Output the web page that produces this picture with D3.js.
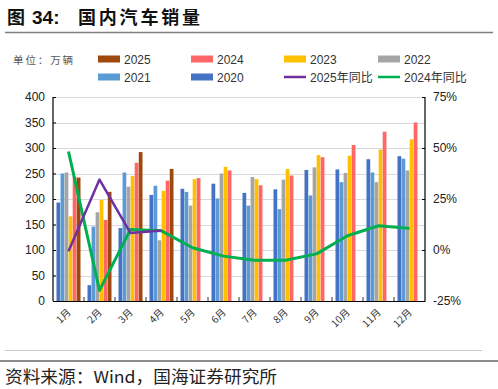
<!DOCTYPE html>
<html>
<head>
<meta charset="utf-8">
<script src="https://cdn.jsdelivr.net/npm/d3@7"></script>
<style>
  body { margin: 0; background: #fff; }
  svg text { font-family: "Liberation Sans", Arial, "Noto Sans CJK SC", sans-serif; }
  .cjk { font-family: "Noto Sans CJK SC", sans-serif; }
</style>
</head>
<body>
<svg id="chart" width="498" height="389"></svg>
<script>
const months = ['1月', '2月', '3月', '4月', '5月', '6月', '7月', '8月', '9月', '10月', '11月', '12月'];
const years = ['2020', '2021', '2022', '2023', '2024', '2025'];

const sales2020 = [193, 31, 143, 208, 220, 230, 212, 219, 257, 258, 278, 284];
const sales2021 = [250, 146, 252, 226, 214, 201, 187, 180, 207, 233, 252, 279];
const sales2022 = [252, 174, 224, 119, 187, 250, 243, 238, 262, 251, 233, 256];
const sales2023 = [166, 198, 245, 216, 239, 263, 239, 259, 286, 285, 297, 317];
const sales2024 = [244, 159, 271, 236, 241, 256, 227, 246, 282, 306, 332, 350];
const sales2025 = [242, 214, 292, 259, null, null, null, null, null, null, null, null];

const yoy2025 = [-0.6, 34.5, 8.3, 9.6, null, null, null, null, null, null, null, null];
const yoy2024 = [48.3, -19.8, 10.1, 9.4, 1.1, -3.0, -5.0, -5.0, -1.9, 7.0, 11.9, 10.6];

const leftTicks = [0, 50, 100, 150, 200, 250, 300, 350, 400];
const rightTicks = [-25, 0, 25, 50, 75];

const salesByYear = {
  '2020': sales2020, '2021': sales2021, '2022': sales2022,
  '2023': sales2023, '2024': sales2024, '2025': sales2025
};
const barColor = {
  '2020': '#4472C4', '2021': '#5B9BD5', '2022': '#A5A5A5',
  '2023': '#FFC000', '2024': '#FF6666', '2025': '#9E480E'
};

const svg = d3.select('#chart');

// title
svg.append('text')
  .attr('x', 7).attr('y', 24)
  .attr('font-size', 18).attr('font-weight', 'bold')
  .attr('class', 'cjk').attr('fill', '#111')
  .text('图');
svg.append('text')
  .attr('x', 32).attr('y', 24)
  .attr('font-size', 19).attr('font-weight', 'bold')
  .attr('fill', '#111')
  .text('34:');
svg.append('text')
  .attr('x', 78).attr('y', 24)
  .attr('font-size', 18).attr('font-weight', 'bold')
  .attr('class', 'cjk').attr('fill', '#111')
  .attr('textLength', 122).attr('lengthAdjust', 'spacing')
  .text('国内汽车销量');
svg.append('line')
  .attr('x1', 5).attr('x2', 493).attr('y1', 32.5).attr('y2', 32.5)
  .attr('stroke', '#7f7f7f').attr('stroke-width', 1.5);

svg.append('text')
  .attr('x', 13).attr('y', 64)
  .attr('font-size', 10.5).attr('class', 'cjk')
  .attr('fill', '#595959')
  .attr('textLength', 60).attr('lengthAdjust', 'spacing')
  .text('单位：万辆');

// plot area
const plotLeft = 53, plotRight = 425, plotTop = 97, plotBottom = 301;

const x0 = d3.scaleBand().domain(months).range([plotLeft, plotRight]);
const x1 = d3.scaleBand().domain(years)
  .range([3.5, x0.bandwidth() - 3.5]).paddingInner(0.08);
const yL = d3.scaleLinear().domain([0, 400]).range([plotBottom, plotTop]);
const yR = d3.scaleLinear().domain([-25, 75]).range([plotBottom, plotTop]);

// gridlines
svg.append('g').selectAll('line')
  .data(leftTicks.slice(1))
  .enter().append('line')
  .attr('x1', plotLeft).attr('x2', plotRight)
  .attr('y1', d => Math.round(yL(d)) + 0.5).attr('y2', d => Math.round(yL(d)) + 0.5)
  .attr('stroke', '#d9d9d9').attr('stroke-width', 1);

// bars
const groups = svg.append('g').selectAll('g')
  .data(months)
  .enter().append('g')
  .attr('transform', d => `translate(${x0(d)},0)`);

groups.selectAll('rect')
  .data((m, i) => years.map(yr => ({ yr, v: salesByYear[yr][i] })).filter(d => d.v != null))
  .enter().append('rect')
  .attr('x', d => x1(d.yr))
  .attr('width', x1.bandwidth())
  .attr('y', d => yL(d.v))
  .attr('height', d => yL(0) - yL(d.v))
  .attr('fill', d => barColor[d.yr]);

// axes
const axisL = svg.append('g')
  .attr('transform', `translate(${plotLeft},0)`)
  .call(d3.axisLeft(yL).tickValues(leftTicks).tickSize(-3).tickPadding(8));
const axisR = svg.append('g')
  .attr('transform', `translate(${plotRight},0)`)
  .call(d3.axisRight(yR).tickValues(rightTicks).tickSize(-3).tickPadding(8).tickFormat(d => d + '%'));
const axisB = svg.append('g')
  .attr('transform', `translate(0,${plotBottom})`)
  .call(d3.axisBottom(x0).tickSize(0).tickFormat(''));

[axisL, axisR, axisB].forEach(a => {
  a.select('.domain').attr('stroke', '#000').attr('stroke-width', 1.2);
  a.selectAll('.tick line').attr('stroke', '#000');
  a.selectAll('.tick text').attr('fill', '#222').attr('font-size', 12)
    .attr('font-family', '"Liberation Sans", Arial, sans-serif');
});
axisL.select('.domain').attr('d', `M0,${plotTop}V${plotBottom}`);
axisR.select('.domain').attr('d', `M0,${plotTop}V${plotBottom}`);

// inner category ticks between groups
svg.append('g').selectAll('line')
  .data(months.slice(1))
  .enter().append('line')
  .attr('x1', d => x0(d)).attr('x2', d => x0(d))
  .attr('y1', plotBottom).attr('y2', plotBottom - 4)
  .attr('stroke', '#333').attr('stroke-width', 1);

// month labels
svg.append('g').selectAll('text')
  .data(months)
  .enter().append('text')
  .attr('class', 'cjk')
  .attr('font-size', 10)
  .attr('fill', '#333')
  .attr('text-anchor', 'end')
  .attr('transform', d => `translate(${x0(d) + x0.bandwidth() / 2 + 3},${plotBottom + 12}) rotate(-45)`)
  .text(d => d);

// yoy lines
const cx = m => x0(m) + x0.bandwidth() / 2;
const line = d3.line()
  .defined(d => d.v != null)
  .x(d => cx(d.m))
  .y(d => yR(d.v));

svg.append('path')
  .datum(months.map((m, i) => ({ m, v: yoy2024[i] })))
  .attr('d', line)
  .attr('fill', 'none').attr('stroke', '#00B050').attr('stroke-width', 3)
  .attr('stroke-linejoin', 'round');

svg.append('path')
  .datum(months.map((m, i) => ({ m, v: yoy2025[i] })))
  .attr('d', line)
  .attr('fill', 'none').attr('stroke', '#7030A0').attr('stroke-width', 2.5)
  .attr('stroke-linejoin', 'round');

// legend
const legendItems = [
  { label: '2025', type: 'bar', color: barColor['2025'], x: 98, y: 59 },
  { label: '2024', type: 'bar', color: barColor['2024'], x: 191, y: 59 },
  { label: '2023', type: 'bar', color: barColor['2023'], x: 284, y: 59 },
  { label: '2022', type: 'bar', color: barColor['2022'], x: 378, y: 59 },
  { label: '2021', type: 'bar', color: barColor['2021'], x: 98, y: 77 },
  { label: '2020', type: 'bar', color: barColor['2020'], x: 191, y: 77 },
  { label: '2025年同比', type: 'line', color: '#7030A0', x: 284, y: 77 },
  { label: '2024年同比', type: 'line', color: '#00B050', x: 378, y: 77 }
];
const lg = svg.append('g').selectAll('g')
  .data(legendItems)
  .enter().append('g')
  .attr('transform', d => `translate(${d.x},${d.y})`);
lg.filter(d => d.type === 'bar').append('rect')
  .attr('x', 0).attr('y', -3.5).attr('width', 22).attr('height', 7)
  .attr('fill', d => d.color);
lg.filter(d => d.type === 'line').append('line')
  .attr('x1', 0).attr('x2', 22).attr('y1', 0).attr('y2', 0)
  .attr('stroke', d => d.color).attr('stroke-width', 2.5);
lg.append('text')
  .attr('x', 26).attr('y', 4.5)
  .attr('font-size', 12).attr('fill', '#333')
  .text(d => d.label);

// footer
svg.append('line')
  .attr('x1', 5).attr('x2', 482).attr('y1', 350.5).attr('y2', 350.5)
  .attr('stroke', '#c8c8c8').attr('stroke-width', 1);
svg.append('line')
  .attr('x1', 0).attr('x2', 498).attr('y1', 361).attr('y2', 361)
  .attr('stroke', '#666').attr('stroke-width', 1.5);
svg.append('text')
  .attr('x', 5).attr('y', 383)
  .attr('class', 'cjk')
  .attr('font-size', 16.5).attr('fill', '#222')
  .attr('textLength', 272).attr('lengthAdjust', 'spacingAndGlyphs')
  .text('资料来源：Wind，国海证券研究所');
</script>
</body>
</html>
